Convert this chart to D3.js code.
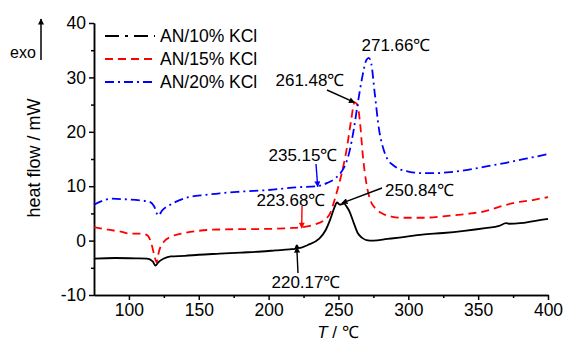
<!DOCTYPE html>
<html>
<head>
  <meta charset="utf-8">
  <title>DSC curves AN/KCl</title>
  <script src="https://d3js.org/d3.v7.min.js"></script>
  <style>
    body { margin: 0; background: #fff; }
    svg { font-family: "Liberation Sans", Arial, sans-serif; }
    .axis path, .axis line { stroke: #000; stroke-width: 1.5px; }
    .axis text { font-size: 17.5px; fill: #000; font-family: "Liberation Sans", Arial, sans-serif; }
    .curve { fill: none; stroke-width: 1.8px; }
    .note { font-size: 17px; fill: #000; }
  </style>
</head>
<body>
<svg width="566" height="343"></svg>
<script>
  // AN/10% KCl
  const t10 = [75, 90, 105, 113, 117, 119, 121, 125, 130, 140, 150, 165, 180, 195, 205, 215, 219, 220.2, 221.5, 228, 236, 241, 244, 247, 249, 251, 254, 256, 258, 261, 264, 267, 270, 275, 285, 295, 310, 325, 340, 355, 365, 370, 372, 380, 390, 400];
  const v10 = [-3.3, -3.2, -3.25, -3.3, -3.8, -4.6, -4.0, -3.3, -2.9, -2.8, -2.6, -2.4, -2.2, -2.0, -1.8, -1.6, -1.5, -0.9, -1.4, -0.8, 0.3, 2.0, 3.8, 6.0, 7.0, 6.6, 6.8, 6.2, 5.3, 3.2, 1.3, 0.5, 0.1, 0.0, 0.3, 0.6, 1.1, 1.4, 1.8, 2.3, 2.7, 3.2, 3.1, 3.2, 3.6, 4.0];
  // AN/15% KCl
  const t15 = [75, 85, 95, 100, 108, 113, 116, 118, 119.8, 121.5, 125, 130, 140, 150, 160, 180, 200, 215, 223.7, 232, 240, 244, 248, 252, 256, 259, 261.5, 263.5, 265.5, 267.5, 270, 273, 277, 282, 288, 295, 310, 330, 345, 355, 365, 375, 390, 400];
  const v15 = [2.45, 2.0, 1.6, 1.3, 1.3, 1.0, -0.5, -2.5, -4.0, -2.0, -0.2, 0.7, 1.4, 1.8, 2.0, 2.1, 2.15, 2.3, 2.45, 2.9, 3.8, 5.0, 8.2, 12.0, 17.0, 22.0, 25.4, 25.0, 21.5, 15.5, 10.5, 7.3, 5.8, 4.9, 4.4, 4.2, 4.2, 4.6, 5.0, 5.4, 6.2, 6.9, 7.5, 8.0];
  // AN/20% KCl
  const t20 = [75, 80, 87, 97, 108, 115, 118, 121, 124, 129, 135, 143, 155, 165, 180, 200, 220, 235, 242, 248, 252, 255, 258, 261, 264, 267, 270, 271.7, 273.5, 276, 279, 282, 285, 289, 294, 300, 310, 320, 330, 340, 355, 370, 385, 400];
  const v20 = [6.6, 7.2, 7.7, 7.6, 7.4, 7.1, 6.3, 4.6, 5.6, 6.5, 7.3, 8.0, 8.4, 8.7, 9.0, 9.3, 9.8, 10.0, 10.6, 11.5, 12.6, 14.0, 16.5, 20.5, 25.5, 30.0, 33.2, 33.6, 32.5, 27.0, 20.5, 17.0, 15.0, 13.9, 13.1, 12.7, 12.4, 12.4, 12.6, 12.9, 13.6, 14.3, 15.1, 15.9];

  const seriesNames = ["AN/10% KCl", "AN/15% KCl", "AN/20% KCl"];
  const xTicks = [100, 150, 200, 250, 300, 350, 400];
  const yTicks = [-10, 0, 10, 20, 30, 40];

  // annotations: label, tip T, tip value
  const noteLabels = ["271.66℃", "261.48℃", "235.15℃", "223.68℃", "250.84℃", "220.17℃"];
  const noteT = [271.66, 261.48, 235.15, 223.68, 252.5, 220.17];
  const noteV = [33.6, 25.4, 9.9, 2.3, 6.9, -1.2];

  const svg = d3.select("svg");
  const x = d3.scaleLinear().domain([75, 400]).range([94, 548]);
  const y = d3.scaleLinear().domain([-10, 40]).range([295, 23]);

  // axes
  svg.append("g").attr("class", "axis")
    .attr("transform", "translate(0,295)")
    .call(d3.axisBottom(x).tickValues(xTicks).tickSize(5).tickSizeOuter(0).tickPadding(4));
  svg.append("g").attr("class", "axis")
    .attr("transform", "translate(0,295)")
    .call(d3.axisBottom(x).tickValues(d3.range(125, 400, 50)).tickSize(3).tickFormat("").tickSizeOuter(0));
  svg.append("g").attr("class", "axis")
    .attr("transform", "translate(94,0)")
    .call(d3.axisLeft(y).tickValues(yTicks).tickSize(5).tickSizeOuter(0).tickPadding(3)
      .tickFormat(d => String(d)));
  svg.append("g").attr("class", "axis")
    .attr("transform", "translate(94,0)")
    .call(d3.axisLeft(y).tickValues(d3.range(-5, 40, 10)).tickSize(3).tickFormat("").tickSizeOuter(0));

  // axis titles
  svg.append("text").attr("transform", "translate(40,158) rotate(-90)")
    .attr("text-anchor", "middle").style("font-size", "18px").text("heat flow / mW");
  const xt = svg.append("text").attr("x", 338).attr("y", 338)
    .attr("text-anchor", "middle").style("font-size", "17px");
  xt.append("tspan").style("font-style", "italic").text("T");
  xt.append("tspan").text(" / ℃");

  // exo arrow
  const defs = svg.append("defs");
  [["black", "#000"], ["red", "#ff0000"], ["blue", "#0000ff"]].forEach(([id, c]) => {
    defs.append("marker").attr("id", "ah-" + id)
      .attr("viewBox", "0 0 10 10").attr("refX", 9).attr("refY", 5)
      .attr("markerWidth", 9).attr("markerHeight", 6).attr("orient", "auto")
      .attr("markerUnits", "userSpaceOnUse")
      .append("path").attr("d", "M0,0 L10,5 L0,10 Z").attr("fill", c);
  });
  svg.append("text").attr("x", 10).attr("y", 58).style("font-size", "16px").text("exo");
  svg.append("line").attr("x1", 41).attr("y1", 60).attr("x2", 41).attr("y2", 19)
    .attr("stroke", "#000").attr("stroke-width", 1.5).attr("marker-end", "url(#ah-black)");

  // curves
  const colors = ["#000000", "#ff0000", "#0000ff"];
  const dashes = [null, "8,5", "9,4,2,4"];
  const legendDashes = ["14,6,3,6", "8,5", "9,4,2,4"];
  const data = [d3.zip(t10, v10), d3.zip(t15, v15), d3.zip(t20, v20)];
  const line = d3.line().x(d => x(d[0])).y(d => y(d[1])).curve(d3.curveMonotoneX);

  data.forEach((d, i) => {
    svg.append("path").attr("class", "curve")
      .attr("d", line(d))
      .attr("stroke", colors[i])
      .attr("stroke-dasharray", dashes[i]);
  });

  // legend
  const leg = svg.append("g");
  seriesNames.forEach((name, i) => {
    const ly = 36 + i * 23;
    leg.append("line").attr("x1", 105).attr("x2", 155).attr("y1", ly).attr("y2", ly)
      .attr("stroke", colors[i]).attr("stroke-width", 1.8)
      .attr("stroke-dasharray", legendDashes[i]);
    leg.append("text").attr("x", 160).attr("y", ly + 6).style("font-size", "17.5px").text(name);
  });

  // annotations
  const noteText = [[396, 51, "middle"], [310, 86, "middle"], [303, 161, "middle"], [291, 206, "middle"], [385, 196, "start"], [306, 288, "middle"]];
  const noteFrom = [null, [327, 90], [316, 164], [302, 206], [382, 188], [298, 273]];
  const noteColor = ["black", "black", "blue", "red", "black", "black"];
  noteLabels.forEach((lab, i) => {
    svg.append("text").attr("class", "note")
      .attr("x", noteText[i][0]).attr("y", noteText[i][1])
      .attr("text-anchor", noteText[i][2]).text(lab);
    if (noteFrom[i]) {
      const tx = x(noteT[i]), ty = y(noteV[i]);
      const c = noteColor[i] === "black" ? "#000" : (noteColor[i] === "red" ? "#ff0000" : "#0000ff");
      svg.append("line")
        .attr("x1", noteFrom[i][0]).attr("y1", noteFrom[i][1])
        .attr("x2", tx).attr("y2", ty)
        .attr("stroke", c).attr("stroke-width", 1.4)
        .attr("marker-end", "url(#ah-" + noteColor[i] + ")");
    }
  });
</script>
</body>
</html>
